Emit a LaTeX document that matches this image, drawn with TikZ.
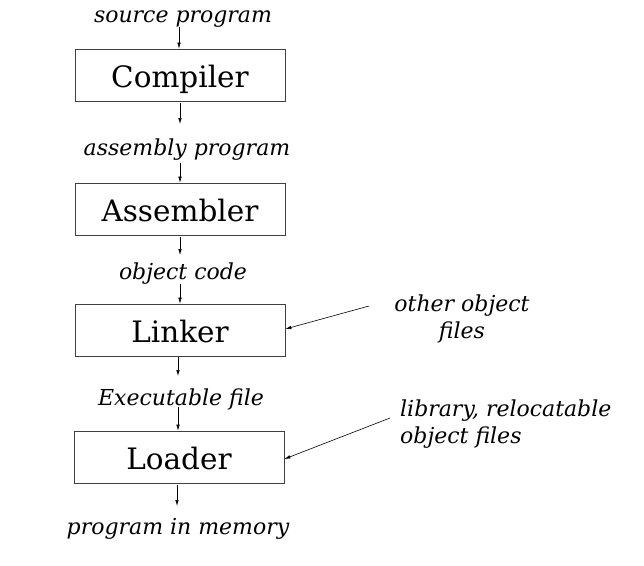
\documentclass[tikz,border=0pt]{standalone}
\usepackage{fontspec}
\setmainfont{DejaVu Serif}
\usetikzlibrary{arrows.meta}
\begin{document}
\begin{tikzpicture}[x=1pt,y=-1pt,
  stage/.style={draw=black!75,line width=0.7pt,minimum width=210pt,minimum height=52pt,inner sep=0pt,text height=26.5pt,text depth=1.5pt,font=\fontsize{29.5}{34}\selectfont},
  lbl/.style={inner sep=0pt,font=\fontsize{22}{27}\selectfont\itshape},
  arr/.style={-{Latex[length=6pt,width=3.5pt]},line width=0.6pt}]
\useasboundingbox (0,0) rectangle (644,565);
\node[lbl] (src) at (183,19.5) {source program};
\node[stage] (comp) at (180,75) {Compiler};
\node[lbl] (asmp) at (187,149.5) {assembly program};
\node[stage] (asm) at (180,209) {Assembler};
\node[lbl] (obj) at (183,273.5) {object code};
\node[stage] (link) at (180,330) {Linker};
\node[lbl] (exe) at (181,399.5) {Executable file};
\node[stage] (load) at (179,457) {Loader};
\node[lbl] (mem) at (178,528.5) {program in memory};
\node[lbl,align=center] (oth) at (462,318.5) {other object\\files};
\node[lbl,align=left,anchor=west] (lib) at (400,424.5) {library, relocatable\\object files};
\coordinate (othe) at (369,306);
\coordinate (libe) at (390,418);
\draw[arr] (179,27) -- (comp.north -| 179,0);
\draw[arr] (comp.south -| 180,0) ++(0,2) -- (180,124);
\draw[arr] (180,163) -- (asm.north -| 180,0);
\draw[arr] (asm.south -| 180,0) ++(0,2) -- (180,255);
\draw[arr] (180,284) -- (link.north -| 180,0);
\draw[arr] (link.south -| 178,0) ++(0,1) -- (178,376);
\draw[arr] (178,407) -- (load.north -| 178,0);
\draw[arr] (load.south -| 177,0) ++(0,2) -- (177,506);
\draw[arr] (othe) -- (link.east |- 0,329);
\draw[arr] (libe) -- (load.east |- 0,459);
\end{tikzpicture}
\end{document}
